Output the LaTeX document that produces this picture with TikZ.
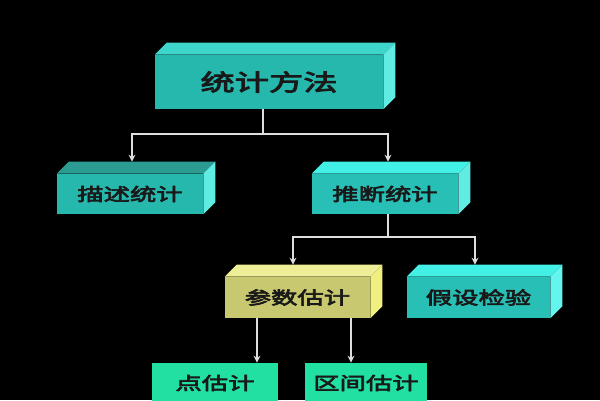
\documentclass[tikz,border=0pt]{standalone}
\usepackage{fontspec}
\newfontfamily\cjk[FakeStretch=1.5,FakeBold=4]{Noto Sans CJK SC}
\usetikzlibrary{arrows.meta}

\definecolor{tealfront}{RGB}{38,184,172}
\definecolor{tealtop}{RGB}{62,214,202}
\definecolor{tealside}{RGB}{96,236,226}
\definecolor{desctop}{RGB}{44,156,146}
\definecolor{cyanfront}{RGB}{40,192,182}
\definecolor{cyantop}{RGB}{66,240,230}
\definecolor{cyanside}{RGB}{100,246,238}
\definecolor{yellowfront}{RGB}{200,200,112}
\definecolor{yellowtop}{RGB}{238,238,150}
\definecolor{yellowside}{RGB}{240,240,128}
\definecolor{greenfront}{RGB}{34,224,162}
\definecolor{linegray}{RGB}{222,222,222}

\begin{document}
\begin{tikzpicture}[x=0.02cm, y=-0.02cm,
    block/.style={fill=tealfront, inner sep=0pt, minimum height=0.8cm,
      text={black!90}, font=\cjk\fontsize{10}{12}\selectfont},
    link/.style={draw=linegray, line width=1.1pt},
    arrow/.style={link, -{Stealth[length=4pt,width=4pt]}},
  ]
  \def\dep{12}
  \fill[black] (0,0) rectangle (600,400);
  \useasboundingbox (0,0) rectangle (600,400);

  % boxes, front faces
  \node[block, minimum width=4.56cm, minimum height=1.08cm,
    font=\cjk\fontsize{13}{15}\selectfont] (method) at (269,82) {统计方法};
  \node[block, minimum width=2.92cm] (desc) at (130,194) {描述统计};
  \node[block, minimum width=2.92cm, fill=cyanfront] (infer) at (385,194) {推断统计};
  \node[block, minimum width=2.9cm, minimum height=0.82cm, fill=yellowfront] (param) at (297.5,297.5) {参数估计};
  \node[block, minimum width=2.86cm, minimum height=0.82cm, fill=cyanfront] (hyp) at (478.5,297.5) {假设检验};
  \node[block, minimum width=2.52cm, fill=greenfront] (point) at (215,383) {点估计};
  \node[block, minimum width=2.44cm, fill=greenfront] (interval) at (366,383) {区间估计};

  % top and side faces
  \foreach \n/\t/\s in {method/tealtop/tealside, desc/desctop/tealside,
      infer/cyantop/tealside, param/yellowtop/yellowside, hyp/cyantop/cyanside} {
    \fill[\t] (\n.north west) -- ++(\dep,-\dep) -- ([shift={(\dep,-\dep)}]\n.north east) -- (\n.north east) -- cycle;
    \fill[\s] (\n.north east) -- ++(\dep,-\dep) -- ([shift={(\dep,-\dep)}]\n.south east) -- (\n.south east) -- cycle;
  }

  % connectors
  \coordinate (j1) at (263,134);
  \coordinate (j2) at (388,237);
  \draw[link] (method.south -| j1) -- (j1);
  \draw[arrow, shorten >=0.24cm] (j1) -| ([xshift=0.04cm]desc.north);
  \draw[arrow, shorten >=0.24cm] (j1) -| ([xshift=0.06cm]infer.north);
  \draw[link] (infer.south -| j2) -- (j2);
  \draw[arrow, shorten >=0.24cm] (j2) -| ([xshift=-0.09cm]param.north);
  \draw[arrow, shorten >=0.24cm] (j2) -| ([xshift=-0.07cm]hyp.north);
  \draw[arrow] ([xshift=-0.81cm]param.south) -- ([xshift=-0.81cm]param.south |- point.north);
  \draw[arrow] ([xshift=1.07cm]param.south) -- ([xshift=1.07cm]param.south |- interval.north);
\end{tikzpicture}
\end{document}
